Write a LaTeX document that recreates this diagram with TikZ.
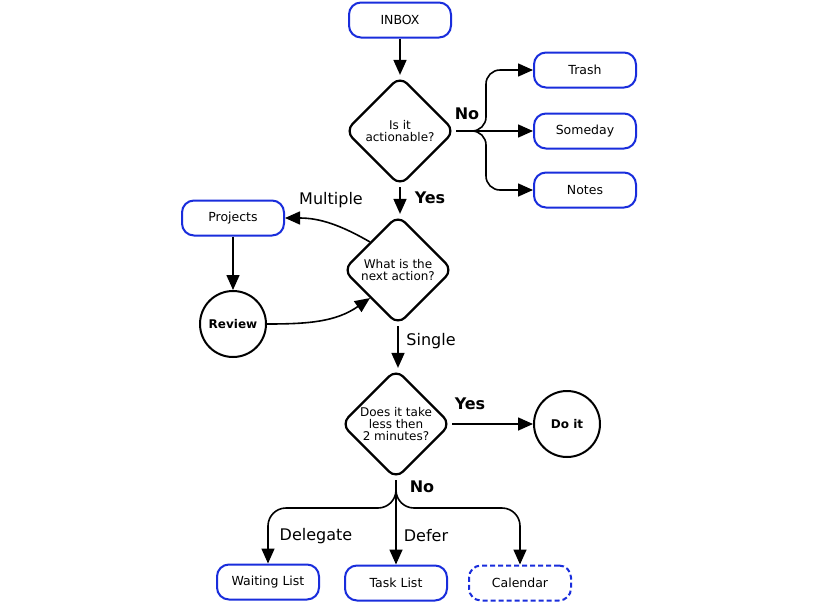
\documentclass[tikz,border=0pt]{standalone}
\usepackage{fontspec}
\setmainfont{DejaVu Sans}
\usetikzlibrary{shapes.geometric,arrows.meta}
\definecolor{boxblue}{RGB}{25,45,220}
\tikzset{
 box/.style={draw=boxblue,line width=2pt,rounded corners=12pt,minimum width=102pt,minimum height=35pt,inner sep=0pt,font=\fontsize{12.5}{13}\selectfont},
 dbox/.style={box,dash pattern=on 5pt off 3pt},
 dia/.style={draw,line width=2.2pt,diamond,rounded corners=10pt,minimum width=110pt,minimum height=110pt,inner sep=0pt,align=center,font=\fontsize{12}{12}\selectfont},
 circ/.style={draw,circle,line width=2pt,minimum size=66pt,inner sep=0pt,font=\bfseries\fontsize{12}{12}\selectfont},
 conn/.style={line width=1.6pt,-{Triangle[length=15pt,width=13pt]}},
 lab/.style={font=\fontsize{16}{16}\selectfont},
 blab/.style={font=\bfseries\fontsize{16}{16}\selectfont},
}
\begin{document}
\begin{tikzpicture}[x=1pt,y=-1pt]
\fill[white] (0,0) rectangle (820,603);
\useasboundingbox (0,0) rectangle (820,603);
\node[box] (inbox) at (400,20) {INBOX};
\node[dia] (d1) at (400,131) {Is it\\actionable?};
\node[box] (trash) at (585,70) {Trash};
\node[box] (someday) at (585,131) {Someday};
\node[box] (notes) at (585,190) {Notes};
\node[dia] (d2) at (398,270) {What is the\\next action?};
\node[box] (proj) at (233,218) {Projects};
\node[circ] (review) at (233,324) {Review};
\node[dia] (d3) at (396,424) {Does it take\\less then\\2 minutes?};
\node[circ] (doit) at (567,424) {Do it};
\node[box] (wait) at (268,582) {Waiting List};
\node[box] (task) at (396,583) {Task List};
\node[dbox] (cal) at (520,583) {Calendar};
\coordinate (j1) at (486,131);
\coordinate (j2) at (396,508);
\draw[conn] (inbox.south) -- (inbox.south |- d1.north);
\draw[conn,rounded corners=14pt] (d1.east) -- (j1) |- (trash.west);
\draw[conn] (d1.east) -- (someday.west);
\draw[conn,rounded corners=14pt] (d1.east) -- (j1) |- (notes.west);
\draw[conn] (d1.south) -- (d1.south |- d2.north);
\draw[conn] (d2.north west) to[out=150,in=0] (proj.east);
\draw[conn] (proj.south) -- (proj.south |- review.north);
\draw[conn] (review.east) to[out=0,in=215] (d2.south west);
\draw[conn] (d2.south) -- (d2.south |- d3.north);
\draw[conn] (d3.east) -- (doit.west);
\draw[conn,rounded corners=18pt] (d3.south) -- (j2) -| (wait.north);
\draw[conn] (d3.south) -- (task.north);
\draw[conn,rounded corners=18pt] (d3.south) -- (j2) -| (cal.north);
\node[blab] (lno1) at (467,114) {No};
\node[blab] (lyes1) at (430,198) {Yes};
\node[lab] (lmult) at (331,200) {Multiple};
\node[lab] (lsing) at (431,341) {Single};
\node[blab] (lyes2) at (470,404) {Yes};
\node[blab] (lno2) at (422,487) {No};
\node[lab] (ldel) at (316,536) {Delegate};
\node[lab] (ldef) at (426,536) {Defer};
\end{tikzpicture}
\end{document}
